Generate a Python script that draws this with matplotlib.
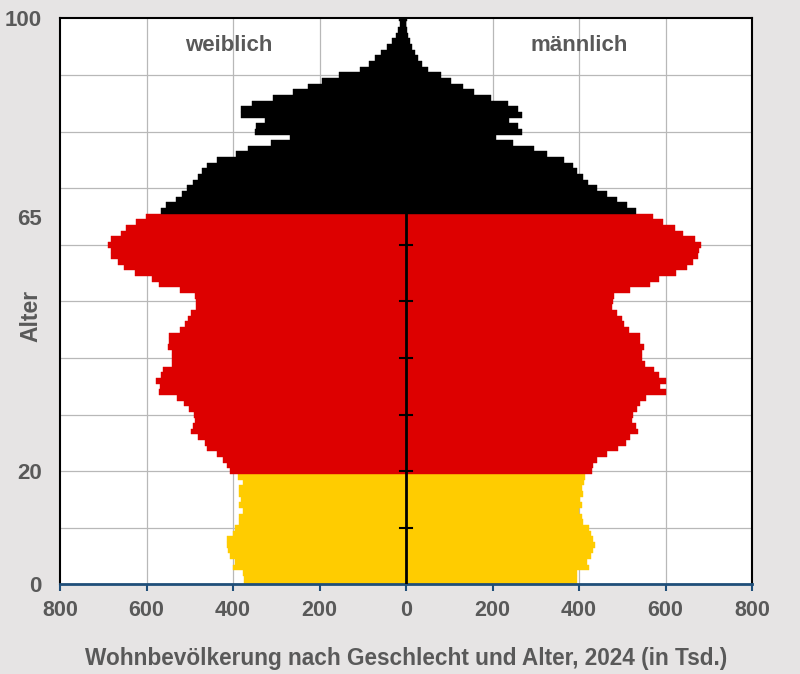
import numpy as np
import matplotlib
matplotlib.use("Agg")
import matplotlib.pyplot as plt

plt.rcParams['font.family'] = ['Liberation Sans', 'DejaVu Sans']

# Bevoelkerung je Altersjahr 0..100 (in Tsd.)
ages = np.arange(0, 101)
weiblich = [375, 375, 378, 400, 396, 408, 411, 415, 414, 401,
            395, 385, 385, 377, 385, 381, 385, 387, 378, 388,
            406, 415, 423, 438, 461, 465, 481, 496, 492, 487,
            491, 502, 514, 529, 572, 569, 578, 566, 562, 542,
            540, 540, 550, 548, 548, 522, 512, 505, 496, 485,
            486, 488, 523, 571, 588, 627, 652, 667, 681, 682,
            690, 683, 659, 648, 625, 602, 567, 554, 532, 517,
            506, 492, 482, 471, 460, 437, 392, 365, 312, 269,
            350, 346, 325, 381, 381, 355, 308, 262, 227, 194,
            155, 106, 86, 71, 58, 45, 33, 24, 18, 14,
            17]
maennlich = [396, 396, 396, 423, 419, 427, 433, 437, 433, 427,
             422, 409, 406, 400, 406, 402, 410, 408, 412, 415,
             429, 432, 442, 464, 491, 508, 518, 537, 531, 523,
             525, 535, 540, 554, 600, 588, 600, 586, 573, 552,
             546, 546, 550, 542, 542, 515, 504, 500, 488, 477,
             478, 481, 518, 565, 585, 625, 650, 663, 675, 677,
             682, 669, 641, 623, 595, 572, 531, 512, 487, 464,
             442, 421, 410, 395, 387, 365, 327, 296, 248, 208,
             268, 259, 238, 269, 260, 235, 196, 158, 131, 105,
             81, 50, 38, 28, 20, 14, 9, 5, 3, 1,
             2]

xticks = [-800, -600, -400, -200, 0, 200, 400, 600, 800]
yticks = [0, 20, 65, 100]

gold = '#ffcc00'
red = '#dd0000'
grey_text = '#595959'


def age_color(a):
    if a < 20:
        return gold
    if a <= 65:
        return red
    return 'black'


cols = [age_color(a) for a in ages]

fig = plt.figure(figsize=(8, 6.74), dpi=100, facecolor='#e6e4e4')
ax = fig.add_axes([0.075, 0.1328, 0.865, 0.8398])
ax.set_facecolor('white')

ax.barh(ages, -np.array(weiblich), height=1.0, color=cols, edgecolor=cols,
        linewidth=0.3, zorder=2)
ax.barh(ages, maennlich, height=1.0, color=cols, edgecolor=cols,
        linewidth=0.3, zorder=2)

# Mittelachse mit kleinen Markierungen
ax.plot([0, 0], [0, 65.5], color='black', lw=2, zorder=3)
for t in range(10, 70, 10):
    ax.plot([-15, 15], [t, t], color='black', lw=1.5, zorder=3)

ax.set_xlim(-800, 800)
ax.set_ylim(0, 100)

for v in range(10, 100, 10):
    ax.axhline(v, color='#b8b8b8', lw=0.9, zorder=1)
for v in [-600, -400, -200, 200, 400, 600]:
    ax.axvline(v, color='#b8b8b8', lw=0.9, zorder=1)

ax.set_xticks(xticks)
ax.set_xticklabels([str(abs(t)) for t in xticks])
ax.set_yticks(yticks)
ax.tick_params(axis='x', colors='#1f4e79', length=5, width=1.5, pad=6,
               labelcolor=grey_text, labelsize=15.5)
ax.tick_params(axis='y', length=0, pad=13, labelcolor=grey_text, labelsize=16)
for lab in ax.get_xticklabels() + ax.get_yticklabels():
    lab.set_fontweight('bold')

for s in ['left', 'top', 'right']:
    ax.spines[s].set_color('black')
    ax.spines[s].set_linewidth(1.5)
ax.spines['bottom'].set_color('#1f4e79')
ax.spines['bottom'].set_linewidth(2)

ax.set_xlabel('Wohnbevölkerung nach Geschlecht und Alter, 2024 (in Tsd.)',
              fontsize=16.3, fontweight='bold', color=grey_text, labelpad=19)
ax.set_ylabel('Alter', fontsize=16.5, fontweight='bold', color=grey_text)
ax.yaxis.set_label_coords(-0.026, 0.475)

ax.text(-410, 95.2, 'weiblich', ha='center', va='center', fontsize=16,
        fontweight='bold', color=grey_text)
ax.text(400, 95.2, 'männlich', ha='center', va='center', fontsize=16,
        fontweight='bold', color=grey_text)

fig.savefig('out.png', dpi=100, facecolor=fig.get_facecolor())
